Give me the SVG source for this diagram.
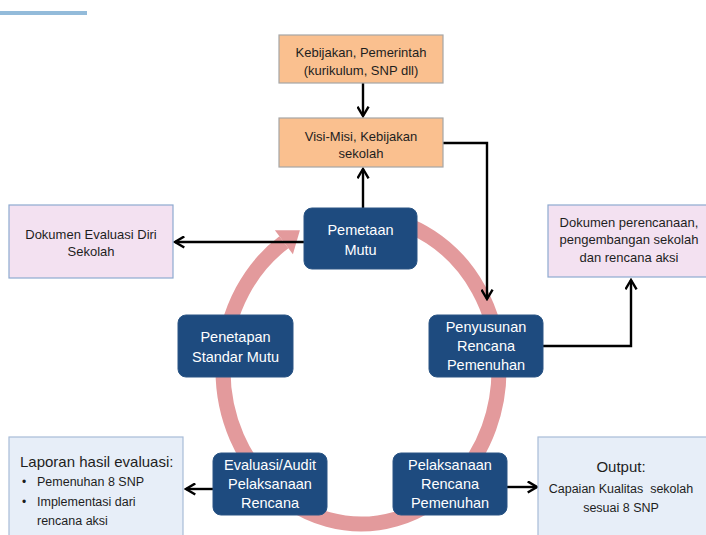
<svg xmlns="http://www.w3.org/2000/svg" width="706" height="535" viewBox="0 0 706 535">
<defs>
<style>
.t{font-family:"Liberation Sans",Arial,sans-serif;fill:#1e1e1e;text-anchor:middle}
.w{font-family:"Liberation Sans",Arial,sans-serif;fill:#ffffff;text-anchor:middle;font-size:14.5px}
.org{fill:#fac08f;stroke:#a6a6a6;stroke-width:1.2}
.pink{fill:#f3e1f1;stroke:#8eaad0;stroke-width:1.2}
.lb{fill:#e7eef8;stroke:#a8bcd8;stroke-width:1.2}
.db{fill:#1e4b7f;stroke:#2a5585;stroke-width:1}
.c{fill:none;stroke:#000;stroke-width:2.4}
</style>
<marker id="a2" viewBox="0 0 14 14" refX="12" refY="7" markerWidth="13" markerHeight="13" markerUnits="userSpaceOnUse" orient="auto">
<path d="M2 1 L12 7 L2 13" fill="none" stroke="#000" stroke-width="2.6"/>
</marker>
</defs>
<rect x="0" y="0" width="706" height="535" fill="#ffffff"/>
<rect x="0" y="11" width="87" height="4" fill="#93bbda"/>

<g id="ring">
<path d="M373 216.6 A138 154 0 1 1 283.9 242.3" fill="none" stroke="#e39a9c" stroke-width="15"/>
<path d="M292.9 254.3 L299.9 230.3 L274.9 230.3 Z" fill="#e39a9c"/>
</g>

<g id="connectors">
<path class="c" d="M363 83 V116" marker-end="url(#a2)"/>
<path class="c" d="M363 208 V169" marker-end="url(#a2)"/>
<path class="c" d="M443 143 H487 V299" marker-end="url(#a2)"/>
<path class="c" d="M304 242 H175" marker-end="url(#a2)"/>
<path class="c" d="M543 346 H631 V280" marker-end="url(#a2)"/>
<path class="c" d="M213 489 H186" marker-end="url(#a2)"/>
<path class="c" d="M507 487 H537" marker-end="url(#a2)"/>
</g>

<g id="kebijakan-pemerintah">
<rect class="org" x="279" y="35" width="164" height="48"/>
<text class="t" x="361" y="57" font-size="13">Kebijakan, Pemerintah</text>
<text class="t" x="361" y="75" font-size="13">(kurikulum, SNP dll)</text>
</g>

<g id="visi-misi">
<rect class="org" x="279" y="118" width="164" height="49"/>
<text class="t" x="361" y="141" font-size="13">Visi-Misi, Kebijakan</text>
<text class="t" x="361" y="158" font-size="13">sekolah</text>
</g>

<g id="dokumen-evaluasi">
<rect class="pink" x="9" y="205" width="164" height="73"/>
<text class="t" x="91" y="239" font-size="13">Dokumen Evaluasi Diri</text>
<text class="t" x="91" y="256" font-size="13">Sekolah</text>
</g>

<g id="dokumen-perencanaan">
<rect class="pink" x="548" y="205" width="162" height="72"/>
<text class="t" x="629" y="227" font-size="13">Dokumen perencanaan,</text>
<text class="t" x="629" y="244" font-size="13">pengembangan sekolah</text>
<text class="t" x="629" y="262" font-size="13">dan rencana aksi</text>
</g>

<g id="pemetaan-mutu">
<rect class="db" x="304" y="208" width="113" height="61" rx="8"/>
<text class="w" x="360.5" y="235">Pemetaan</text>
<text class="w" x="360.5" y="255">Mutu</text>
</g>

<g id="penetapan-standar">
<rect class="db" x="178" y="315" width="115" height="62" rx="8"/>
<text class="w" x="235.5" y="342">Penetapan</text>
<text class="w" x="235.5" y="362">Standar Mutu</text>
</g>

<g id="penyusunan-rencana">
<rect class="db" x="429" y="315" width="114" height="62" rx="8"/>
<text class="w" x="486" y="332">Penyusunan</text>
<text class="w" x="486" y="351">Rencana</text>
<text class="w" x="486" y="370">Pemenuhan</text>
</g>

<g id="evaluasi-audit">
<rect class="db" x="213" y="453" width="114" height="62" rx="8"/>
<text class="w" x="270" y="470">Evaluasi/Audit</text>
<text class="w" x="270" y="489">Pelaksanaan</text>
<text class="w" x="270" y="508">Rencana</text>
</g>

<g id="pelaksanaan-rencana">
<rect class="db" x="393" y="453" width="114" height="62" rx="8"/>
<text class="w" x="450" y="470">Pelaksanaan</text>
<text class="w" x="450" y="489">Rencana</text>
<text class="w" x="450" y="508">Pemenuhan</text>
</g>

<g id="laporan">
<rect class="lb" x="9" y="437" width="174" height="110"/>
<text class="t" x="20" y="467" font-size="15" style="text-anchor:start">Laporan hasil evaluasi:</text>
<text class="t" x="22" y="486" font-size="12" style="text-anchor:start">•</text>
<text class="t" x="37" y="486" font-size="12.5" style="text-anchor:start">Pemenuhan 8 SNP</text>
<text class="t" x="22" y="506" font-size="12" style="text-anchor:start">•</text>
<text class="t" x="37" y="506" font-size="12.5" style="text-anchor:start">Implementasi dari</text>
<text class="t" x="37" y="525" font-size="12.5" style="text-anchor:start">rencana aksi</text>
</g>

<g id="output">
<rect class="lb" x="538" y="437" width="172" height="110"/>
<text class="t" x="621" y="472" font-size="15">Output:</text>
<text class="t" x="621" y="493" font-size="12.5" xml:space="preserve">Capaian Kualitas  sekolah</text>
<text class="t" x="621" y="512" font-size="12.5">sesuai 8 SNP</text>
</g>
</svg>
